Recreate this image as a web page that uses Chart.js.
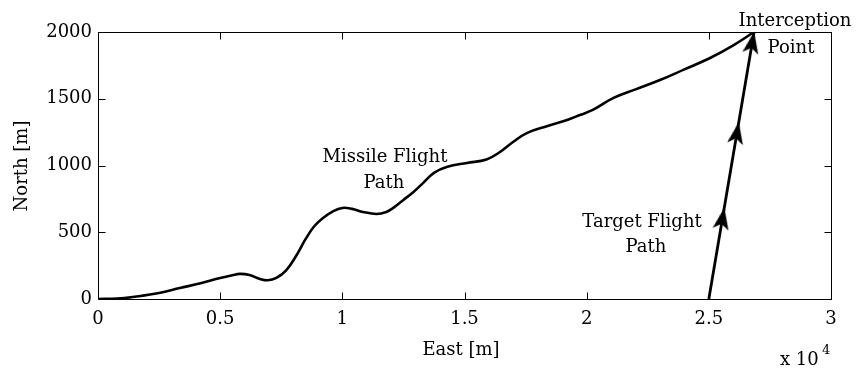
<!DOCTYPE html>
<html>
<head>
<meta charset="utf-8">
<script src="https://cdn.jsdelivr.net/npm/chart.js@4/dist/chart.umd.min.js"></script>
<style>
  html, body { margin: 0; padding: 0; background: #fff; }
  canvas { display: block; }
</style>
</head>
<body>
<canvas id="c" width="858" height="370"></canvas>
<script>
// Missile trajectory (East, North) in metres
const missileEast = [0, 800, 1500, 2500, 3350, 4200, 5000, 5500, 5800, 6200, 6600, 6950, 7300, 7700,
  8100, 8500, 8850, 9250, 9600, 10000, 10400, 10850, 11400, 11800, 12100, 12500, 12900, 13300,
  13750, 14300, 15100, 15900, 16450, 17000, 17550, 18400, 19200, 19750, 20250, 21100,
  22000, 23000, 24000, 25050, 26000, 26850];
const missileNorth = [0, 3, 17, 45, 82, 118, 157, 178, 188, 180, 152, 140, 158, 215,
  320, 450, 545, 612, 655, 682, 675, 652, 637, 652, 684, 742, 800, 868,
  945, 990, 1019, 1045, 1101, 1178, 1243, 1296, 1341, 1380, 1416, 1506,
  1570, 1640, 1720, 1805, 1900, 2000];

// Target trajectory
const targetEast = [25000, 26850];
const targetNorth = [0, 2000];

// Direction arrows along the target path
const arrowEast = [25555, 26147, 26774];
const arrowNorth = [600, 1240, 1918];

// Axis ticks
const xTicks = [0, 5000, 10000, 15000, 20000, 25000, 30000];
const yTicks = [0, 500, 1000, 1500, 2000];

const FONT = "'DejaVu Serif', serif";

// Notched arrowhead used as the point style
function makeArrow() {
  const cv = document.createElement('canvas');
  cv.width = 17; cv.height = 23;
  const g = cv.getContext('2d');
  g.fillStyle = '#000';
  g.beginPath();
  g.moveTo(8.5, 0);
  g.lineTo(16.5, 22);
  g.lineTo(8.5, 16.5);
  g.lineTo(0.5, 22);
  g.closePath();
  g.fill();
  return cv;
}
const arrowImg = makeArrow();

const pts = (xs, ys) => xs.map((x, i) => ({ x, y: ys[i] }));

// Box, inward ticks and text annotations
const decor = {
  id: 'decor',
  afterDraw(chart) {
    const { ctx, chartArea: a, scales: { x, y } } = chart;
    ctx.save();
    ctx.strokeStyle = '#000';
    ctx.lineWidth = 1;
    ctx.beginPath();
    const L = Math.round(a.left) + 0.5, R = Math.round(a.right) + 0.5;
    const T = Math.round(a.top) + 0.5, B = Math.round(a.bottom) + 0.5;
    ctx.rect(L, T, R - L, B - T);
    const tl = 7;
    xTicks.forEach(v => {
      const px = Math.round(x.getPixelForValue(v)) + 0.5;
      ctx.moveTo(px, B); ctx.lineTo(px, B - tl);
      ctx.moveTo(px, T); ctx.lineTo(px, T + tl);
    });
    yTicks.forEach(v => {
      const py = Math.round(y.getPixelForValue(v)) + 0.5;
      ctx.moveTo(L, py); ctx.lineTo(L + tl, py);
      ctx.moveTo(R, py); ctx.lineTo(R - tl, py);
    });
    ctx.stroke();

    ctx.fillStyle = '#000';
    ctx.font = '18px ' + FONT;
    ctx.textAlign = 'center';
    ctx.textBaseline = 'alphabetic';
    ctx.fillText('Missile Flight', 385, 162);
    ctx.fillText('Path', 384, 188);
    ctx.fillText('Target Flight', 642, 227);
    ctx.fillText('Path', 646, 252);
    ctx.fillText('Interception', 795, 26);
    ctx.fillText('Point', 791, 53);
    ctx.fillText('East [m]', 461, 355);

    ctx.textAlign = 'left';
    ctx.fillText('x 10', 780, 365);
    ctx.font = '13px ' + FONT;
    ctx.fillText('4', 822, 354);

    ctx.font = '18px ' + FONT;
    ctx.translate(27, 166);
    ctx.rotate(-Math.PI / 2);
    ctx.textAlign = 'center';
    ctx.fillText('North [m]', 0, 0);
    ctx.restore();
  }
};

new Chart(document.getElementById('c'), {
  type: 'scatter',
  data: {
    datasets: [
      {
        data: pts(missileEast, missileNorth),
        showLine: true,
        borderColor: '#000',
        borderWidth: 2.6,
        pointRadius: 0,
        tension: 0.4
      },
      {
        data: pts(targetEast, targetNorth),
        showLine: true,
        borderColor: '#000',
        borderWidth: 2.8,
        pointRadius: 0
      },
      {
        data: pts(arrowEast, arrowNorth),
        showLine: false,
        pointStyle: arrowImg,
        rotation: 10,
        pointRadius: 8
      }
    ]
  },
  options: {
    responsive: false,
    animation: false,
    devicePixelRatio: 1,
    layout: { padding: { left: 0, right: 27, top: 32, bottom: 0 } },
    plugins: { legend: { display: false }, tooltip: { enabled: false } },
    scales: {
      x: {
        type: 'linear',
        min: 0, max: 30000,
        afterBuildTicks: s => { s.ticks = xTicks.map(v => ({ value: v })); },
        afterFit: s => { s.height = 71; },
        grid: { display: false, drawTicks: false },
        border: { display: false },
        ticks: {
          color: '#000',
          font: { family: FONT, size: 18 },
          padding: 10,
          maxRotation: 0,
          callback: v => String(v / 10000)
        }
      },
      y: {
        type: 'linear',
        min: 0, max: 2000,
        afterBuildTicks: s => { s.ticks = yTicks.map(v => ({ value: v })); },
        afterFit: s => { s.width = 98; },
        grid: { display: false, drawTicks: false },
        border: { display: false },
        ticks: {
          color: '#000',
          font: { family: FONT, size: 18 },
          padding: 6,
          callback: v => String(v)
        }
      }
    }
  },
  plugins: [decor]
});
</script>
</body>
</html>
